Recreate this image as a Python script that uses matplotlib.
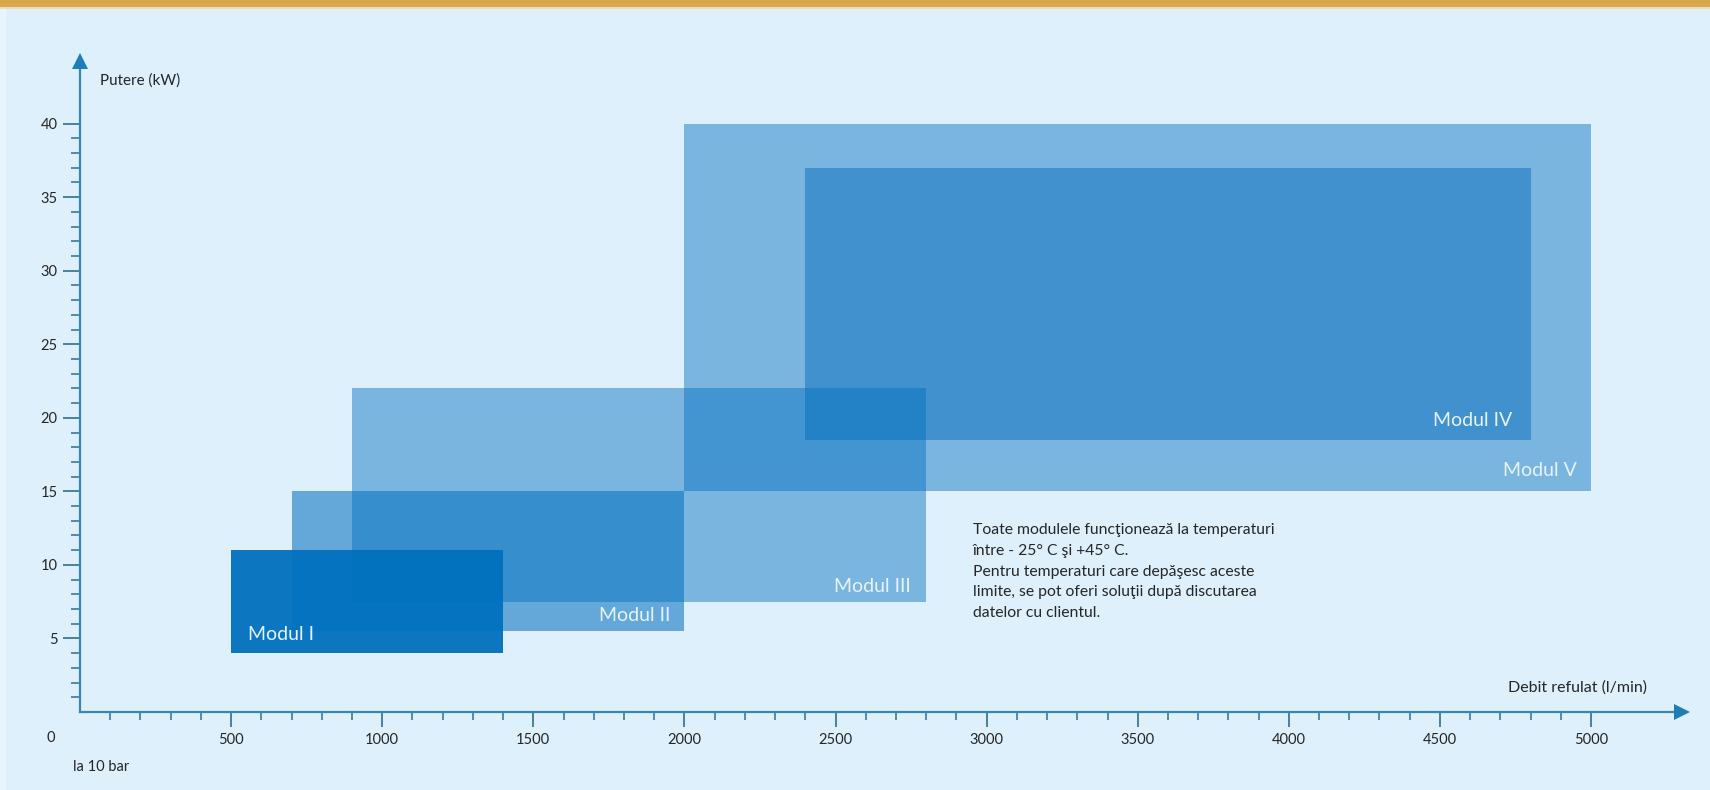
import matplotlib
matplotlib.use("Agg")
import matplotlib.pyplot as plt
from matplotlib.patches import Rectangle
from matplotlib.ticker import FixedLocator

# ---- data ----
modules = ["Modul I", "Modul II", "Modul III", "Modul IV", "Modul V"]
flow_min = [500, 700, 900, 2400, 2000]
flow_max = [1400, 2000, 2800, 4800, 5000]
power_min = [4, 5.5, 7.5, 18.5, 15]
power_max = [11, 15, 22, 37, 40]

x_ticks = [500, 1000, 1500, 2000, 2500, 3000, 3500, 4000, 4500, 5000]
y_ticks = [5, 10, 15, 20, 25, 30, 35, 40]

note_lines = [
    "Toate modulele funcţionează la temperaturi",
    "între - 25° C şi +45° C.",
    "Pentru temperaturi care depăşesc aceste",
    "limite, se pot oferi soluţii după discutarea",
    "datelor cu clientul.",
]

plt.rcParams["font.family"] = ["Lato", "DejaVu Sans"]

BG = "#DDF0FB"
AXC = "#3A86B2"
TICKC = "#2F6E94"
TXT = "#262626"
LABC = "#E6F3FB"

fig = plt.figure(figsize=(17.1, 7.9), dpi=100, facecolor=BG)
ax = fig.add_axes([80 / 1710, 78 / 790, 1602 / 1710, 651 / 790])
ax.set_facecolor(BG)
ax.set_xlim(0, 5301)
ax.set_ylim(0, 44.26)

# top orange band and light left border
fig.add_artist(Rectangle((0, 1 - 7 / 790), 1, 7 / 790, transform=fig.transFigure,
                         facecolor="#D9A74E", edgecolor="none"))
fig.add_artist(Rectangle((0, 1 - 9 / 790), 1, 2 / 790, transform=fig.transFigure,
                         facecolor="#F3DDB0", edgecolor="none"))
fig.add_artist(Rectangle((0, 0), 6 / 1710, 1 - 9 / 790, transform=fig.transFigure,
                         facecolor="#E6F5FC", edgecolor="none"))

# rectangles
styles = {
    "Modul I": ((0 / 255, 112 / 255, 190 / 255), 0.95),
    "Modul II": ((0 / 255, 110 / 255, 190 / 255), 0.55),
    "Modul III": ((0 / 255, 110 / 255, 190 / 255), 0.45),
    "Modul IV": ((0 / 255, 106 / 255, 186 / 255), 0.47),
    "Modul V": ((0 / 255, 110 / 255, 190 / 255), 0.45),
}
order = [4, 3, 2, 1, 0]
for i in order:
    c, a = styles[modules[i]]
    ax.add_patch(Rectangle((flow_min[i], power_min[i]), flow_max[i] - flow_min[i],
                           power_max[i] - power_min[i], facecolor=c, alpha=a,
                           edgecolor="none", zorder=1 + (4 - i) * 0.1))

# labels
offsets = {
    "Modul I": (17, 13),
    "Modul II": (-14, 10),
    "Modul III": (-15, 10),
    "Modul IV": (-18, 14),
    "Modul V": (-14, 15),
}
for i, name in enumerate(modules):
    dx, dy = offsets[name]
    if name == "Modul I":
        xy = (flow_min[i], power_min[i])
        ha = "left"
    else:
        xy = (flow_max[i], power_min[i])
        ha = "right"
    ax.annotate(name, xy=xy, xytext=(dx * 0.72, dy * 0.72), textcoords="offset points",
                ha=ha, va="baseline", fontsize=14, color=LABC, zorder=5)

# axes styling
for s in ["top", "right"]:
    ax.spines[s].set_visible(False)
for s in ["left", "bottom"]:
    ax.spines[s].set_color(AXC)
    ax.spines[s].set_linewidth(1.6)
    ax.spines[s].set_zorder(6)

ax.xaxis.set_major_locator(FixedLocator(x_ticks))
ax.xaxis.set_minor_locator(FixedLocator([v for v in range(100, 5000, 100) if v % 500]))
ax.yaxis.set_major_locator(FixedLocator(y_ticks))
ax.yaxis.set_minor_locator(FixedLocator([v for v in range(1, 40) if v % 5]))
ax.set_xticklabels([str(v) for v in x_ticks])
ax.set_yticklabels([str(v) for v in y_ticks])

ax.tick_params(axis="x", which="major", direction="out", length=11, width=1.2,
               color=TICKC, labelsize=10.5, labelcolor=TXT, pad=4)
ax.tick_params(axis="x", which="minor", direction="out", length=6, width=1.1, color=TICKC)
ax.tick_params(axis="y", which="major", direction="out", length=12, width=1.2,
               color=TICKC, labelsize=10.5, labelcolor=TXT, pad=4)
ax.tick_params(axis="y", which="minor", direction="out", length=6.5, width=1.1, color=TICKC)

# arrow heads
ax.plot(1, 0, marker=">", ms=12, color="#1E7DB5", transform=ax.transAxes,
        clip_on=False, zorder=7, markeredgewidth=0)
ax.plot(0, 1, marker="^", ms=12, color="#1E7DB5", transform=ax.transAxes,
        clip_on=False, zorder=7, markeredgewidth=0)

# axis labels
ax.text(66, 42.96, "Putere (kW)", fontsize=11, color=TXT, ha="left", va="center",
        clip_on=False)
ax.text(5185, 1.63, "Debit refulat (l/min)", fontsize=11.5, color=TXT, ha="right",
        va="center", clip_on=False)
ax.text(-96, -1.77, "0", fontsize=10.5, color=TXT, ha="center", va="center", clip_on=False)
ax.text(-23, -3.74, "la 10 bar", fontsize=10.5, color=TXT, ha="left", va="center",
        clip_on=False)

# note
ax.text(2955, 12.85, "\n".join(note_lines), fontsize=11.3, color=TXT, ha="left", va="top",
        linespacing=1.62, zorder=5)

fig.savefig("out.png", dpi=100, facecolor=BG)
